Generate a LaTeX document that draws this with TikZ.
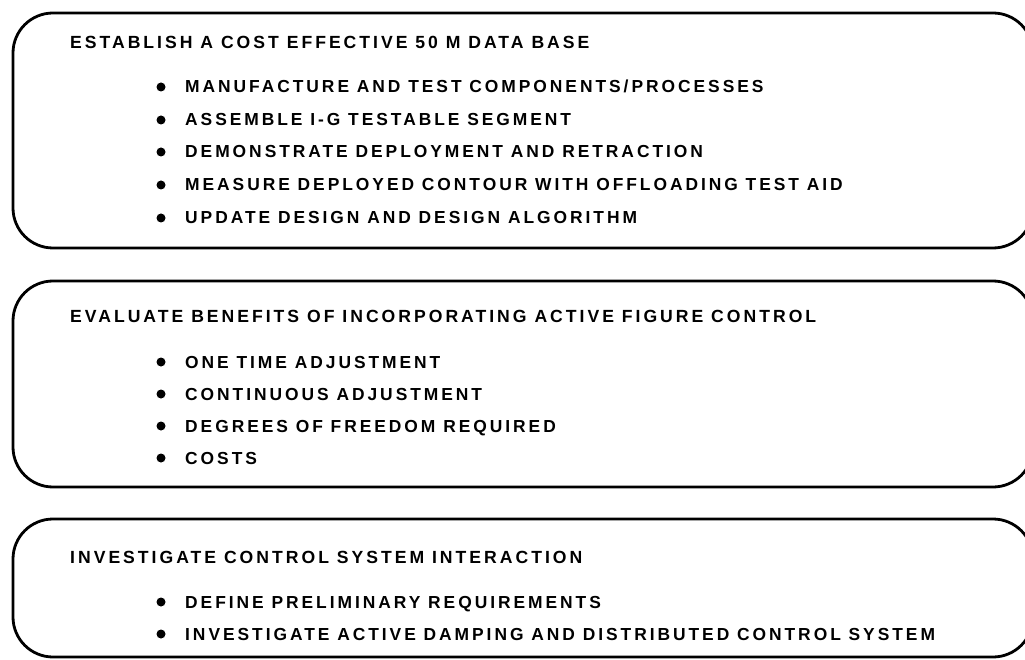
\documentclass[tikz,border=0pt]{standalone}
\usepackage{fontspec}
\setmainfont{Liberation Sans}[LetterSpace=17]
\begin{document}
\begin{tikzpicture}[x=1pt,y=-1pt,
  boxline/.style={line width=2.8pt, rounded corners=40pt},
  ttl/.style={anchor=base west, inner sep=0pt, font=\fontsize{17.6}{19}\selectfont\bfseries},
  itm/.style={anchor=base west, inner sep=0pt, font=\fontsize{17.4}{19}\selectfont\bfseries},
  dot/.style={circle, fill=black, inner sep=0pt, minimum size=9pt}]
\useasboundingbox (0,0) rectangle (1025,660);
\clip (0,0) rectangle (1025,660);
% boxes
\draw[boxline] (13,13) rectangle (1033,248);
\draw[boxline] (13,281) rectangle (1033,487);
\draw[boxline] (13,519) rectangle (1033,657);
% box 1
\node[ttl] (t1) at (70,49) {ESTABLISH A COST EFFECTIVE 50 M DATA BASE};
\foreach \i/\y/\t in {a/87/{MANUFACTURE AND TEST COMPONENTS/PROCESSES},
  b/120/{ASSEMBLE I-G TESTABLE SEGMENT},
  c/152/{DEMONSTRATE DEPLOYMENT AND RETRACTION},
  d/185/{MEASURE DEPLOYED CONTOUR WITH OFFLOADING TEST AID},
  e/218/{UPDATE DESIGN AND DESIGN ALGORITHM}}{
  \node[dot] (b1\i) at (161,\y) {};
  \node[itm] (i1\i) at (185,\y+6) {\t};
}
% box 2
\node[ttl] (t2) at (70,323) {EVALUATE BENEFITS OF INCORPORATING ACTIVE FIGURE CONTROL};
\foreach \i/\y/\t in {a/362/{ONE TIME ADJUSTMENT},
  b/394/{CONTINUOUS ADJUSTMENT},
  c/426/{DEGREES OF FREEDOM REQUIRED},
  d/458/{COSTS}}{
  \node[dot] (b2\i) at (161,\y) {};
  \node[itm] (i2\i) at (185,\y+6) {\t};
}
% box 3
\node[ttl] (t3) at (70,563) {INVESTIGATE CONTROL SYSTEM INTERACTION};
\foreach \i/\y/\t in {a/602/{DEFINE PRELIMINARY REQUIREMENTS},
  b/634/{INVESTIGATE ACTIVE DAMPING AND DISTRIBUTED CONTROL SYSTEM}}{
  \node[dot] (b3\i) at (161,\y) {};
  \node[itm] (i3\i) at (185,\y+6) {\t};
}
\end{tikzpicture}
\end{document}
